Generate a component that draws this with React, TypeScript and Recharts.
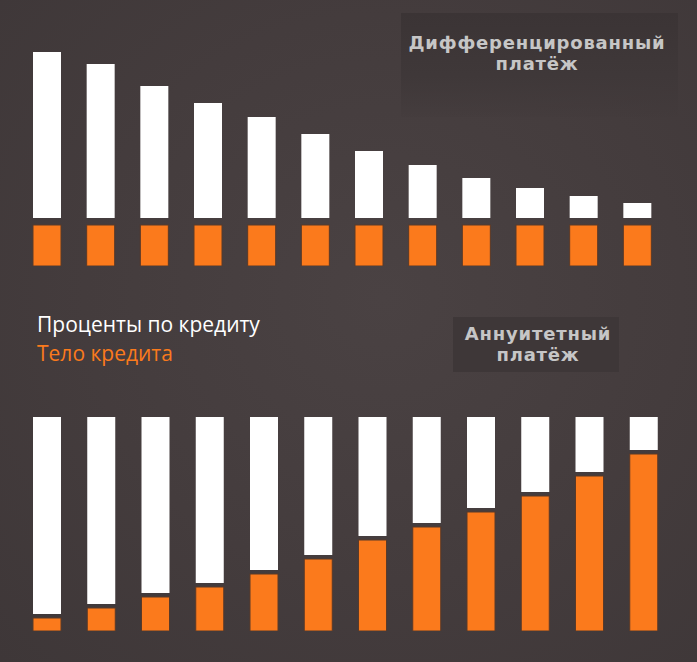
import React from "react";
import { BarChart, Bar, XAxis, YAxis } from "recharts";

const months = ["1", "2", "3", "4", "5", "6", "7", "8", "9", "10", "11", "12"];
const diffBody = [41, 41, 41, 41, 41, 41, 41, 41, 41, 41, 41, 41];
const diffInterest = [166, 154, 132, 115, 101, 84, 67, 53, 40, 30, 22, 15];
const annBody = [13, 23, 34, 44, 57, 72, 91, 104, 119, 135, 155, 177];
const annInterest = [197, 187, 176, 166, 153, 138, 119, 106, 91, 75, 55, 33];

const legendLabels = ["Проценты по кредиту", "Тело кредита"];
const titleDiff = ["Дифференцированный", "платёж"];
const titleAnn = ["Аннуитетный", "платёж"];

const diffData = months.map((m, i) => ({ m, body: diffBody[i], interest: diffInterest[i] }));
const annData = months.map((m, i) => ({ m, body: annBody[i], interest: annInterest[i] }));

const BG = "#443c3d";
const ORANGE = "#fb7a1c";

const shiftedWhite = (gap: number) => (props: any) => {
  const { x, y, width, height } = props;
  if (!height || height <= 0) return <g />;
  return <rect x={x} y={y - gap} width={width} height={height} fill="#ffffff" />;
};

const orangeShape = (props: any) => {
  const { x, y, width, height } = props;
  if (!height || height <= 0) return <g />;
  return (
    <rect x={x} y={y} width={width} height={height} fill={ORANGE} stroke="#5a3a28" strokeWidth={1} />
  );
};

const titleStyle: React.CSSProperties = {
  position: "absolute",
  fontFamily: "'DejaVu Sans', sans-serif",
  fontWeight: 700,
  fontSize: 18,
  lineHeight: "21px",
  letterSpacing: 0.8,
  color: "#c6c6c6",
  textAlign: "center",
  whiteSpace: "nowrap",
};

export default function App() {
  return (
    <div
      style={{
        position: "absolute",
        left: 0,
        top: 0,
        width: 697,
        height: 662,
        background: `radial-gradient(ellipse at 55% 45%, #4a4243 0%, ${BG} 55%, #3e3738 100%)`,
        overflow: "hidden",
      }}
    >
      <div
        style={{
          position: "absolute",
          left: 401,
          top: 13,
          width: 277,
          height: 104,
          background: "linear-gradient(180deg, #3b3435 0%, #3f3839 60%, rgba(66,58,59,0.3) 100%)",
        }}
      />
      <div
        style={{
          position: "absolute",
          left: 453,
          top: 317,
          width: 166,
          height: 55,
          background: "#3e3738",
        }}
      />
      <div style={{ ...titleStyle, left: 401, width: 272, top: 32 }}>
        <div>{titleDiff[0]}</div>
        <div>{titleDiff[1]}</div>
      </div>
      <div style={{ ...titleStyle, left: 453, width: 170, top: 323 }}>
        <div>{titleAnn[0]}</div>
        <div>{titleAnn[1]}</div>
      </div>
      <div
        style={{
          position: "absolute",
          left: 37,
          top: 310,
          fontFamily: "'Open Sans', sans-serif",
          fontSize: 21,
          lineHeight: "29px",
        }}
      >
        <div style={{ color: "#ffffff" }}>{legendLabels[0]}</div>
        <div style={{ color: ORANGE }}>{legendLabels[1]}</div>
      </div>

      <div style={{ position: "absolute", left: 0, top: 0 }}>
        <BarChart
          width={697}
          height={266}
          data={diffData}
          margin={{ top: 20, right: 33, bottom: 0, left: 20 }}
          barSize={28}
        >
          <XAxis dataKey="m" hide />
          <YAxis hide domain={[0, 246]} />
          <Bar dataKey="body" stackId="a" fill={ORANGE} shape={orangeShape} isAnimationActive={false} />
          <Bar
            dataKey="interest"
            stackId="a"
            fill="#ffffff"
            shape={shiftedWhite(7)}
            isAnimationActive={false}
          />
        </BarChart>
      </div>

      <div style={{ position: "absolute", left: 0, top: 380 }}>
        <BarChart
          width={697}
          height={251}
          data={annData}
          margin={{ top: 20, right: 26, bottom: 0, left: 20 }}
          barSize={28}
        >
          <XAxis dataKey="m" hide />
          <YAxis hide domain={[0, 231]} />
          <Bar dataKey="body" stackId="a" fill={ORANGE} shape={orangeShape} isAnimationActive={false} />
          <Bar
            dataKey="interest"
            stackId="a"
            fill="#ffffff"
            shape={shiftedWhite(4)}
            isAnimationActive={false}
          />
        </BarChart>
      </div>
    </div>
  );
}
